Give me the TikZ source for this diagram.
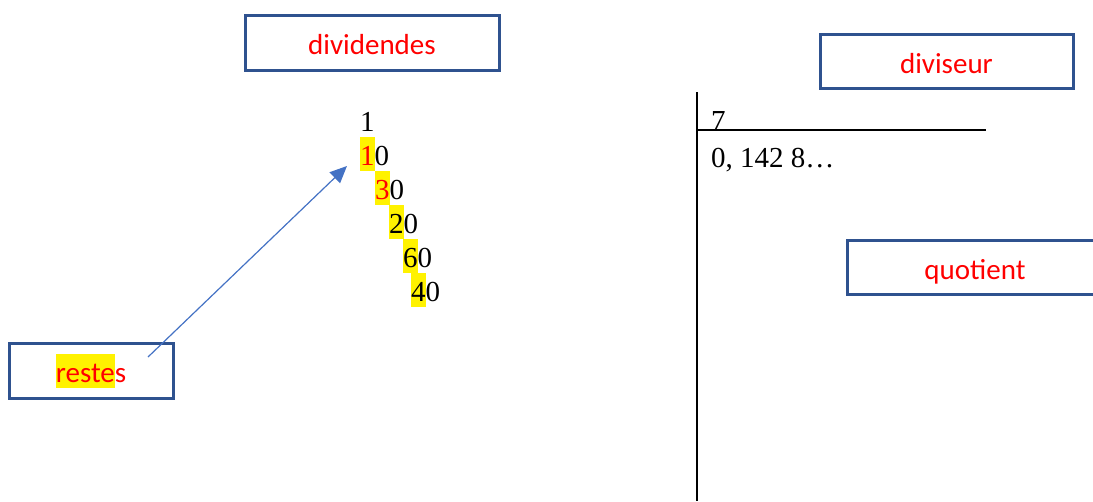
\documentclass[tikz,border=0pt]{standalone}
\usepackage{fontspec}
\setmainfont{Liberation Serif}
\newfontfamily\calibri{Carlito}
\usetikzlibrary{arrows.meta}
\definecolor{boxblue}{RGB}{47,82,143}
\definecolor{arrowblue}{RGB}{68,114,196}
\newcommand{\hlbox}[2][-6pt]{{\setlength\fboxsep{0pt}\colorbox{yellow}{\rule[#1]{0pt}{34pt}#2}}}
\tikzset{divsec/.style={x=1pt,y=-1pt,font=\fontsize{29}{34}\selectfont},
  labelbox/.style={draw=boxblue,line width=3pt,text=red,font=\calibri\fontsize{29}{34}\selectfont,
    text height=24pt,text depth=0pt,inner sep=0pt},
  digits/.style={anchor=base west,inner sep=0pt}}

\begin{document}
\begin{tikzpicture}[divsec]
    \useasboundingbox (0,0) rectangle (1093,501);
    \node[labelbox,minimum width=254pt,minimum height=55pt] (dividendes) at (372,42.5) {dividendes};
    \node[labelbox,minimum width=253pt,minimum height=54pt] (diviseur) at (946.5,61) {diviseur};
    \node[labelbox,minimum width=256pt,minimum height=54pt] (quotient) at (975,267) {quotient};
    \node[labelbox,minimum width=164pt,minimum height=55pt] (restes) at (91,370.5) {\hlbox[-5pt]{reste}s};
    % successive remainders
    \node[digits] (r1) at (360,131) {1};
    \foreach \x/\y/\d/\c [count=\i] in {360/165/1/red,375/199/3/red,389/233/2/black,403/267/6/black,411/301/4/black}
      \node[digits] (row\i) at (\x,\y) {\hlbox{\textcolor{\c}{\d}}0};
    % division bracket
    \coordinate (bartop) at (697,92);
    \coordinate (barbot) at (697,501);
    \coordinate (barleft) at (697,130);
    \coordinate (barright) at (986,130);
    \draw[line width=1.8pt] (bartop) -- (barbot);
    \draw[line width=1.8pt] (barleft) -- (barright);
    \node[digits] (divisor) at (711,130) {7};
    \node[digits] (result) at (711,167) {0, 142 8…};
    % arrow to first remainder
    \coordinate (arrowstart) at (148,357);
    \coordinate (arrowtip) at (347,166);
    \draw[arrowblue,line width=1.2pt,-{Triangle[length=17pt,width=15pt]}] (arrowstart) -- (arrowtip);
  \end{tikzpicture}
\end{document}
